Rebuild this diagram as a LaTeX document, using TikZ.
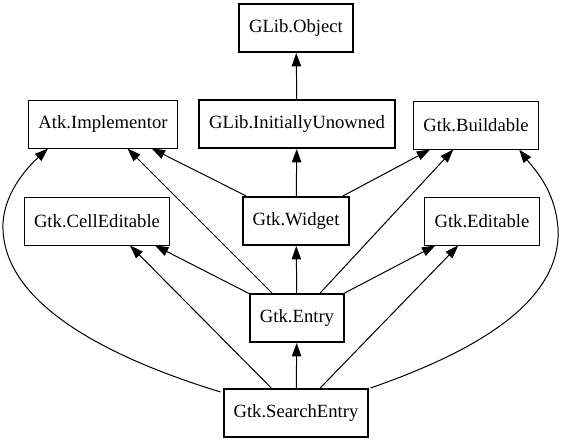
\documentclass[tikz,border=0pt]{standalone}
\usepackage{fontspec}
\setmainfont{Liberation Serif}
\usetikzlibrary{arrows.meta,calc}

\tikzset{
  cls/.style={draw, line width=0.75pt, minimum height=36pt, inner xsep=7.5pt,
    font=\fontsize{14}{16}\selectfont},
  boldcls/.style={cls, line width=1.5pt},
  inh/.style={line width=0.75pt, -{Triangle[length=10pt,width=7pt]}}
}

\begin{document}
\begin{tikzpicture}[x=0.75pt, y=-0.75pt]
    \useasboundingbox (0,0) rectangle (564,443);
    % classes
    \node[boldcls] (obj) at (296,28) {GLib.Object};
    \node[boldcls] (unowned) at (297,124) {GLib.InitiallyUnowned};
    \node[cls] (atk) at (103,124) {Atk.Implementor};
    \node[cls] (buildable) at (476,125) {Gtk.Buildable};
    \node[cls] (cell) at (97,221) {Gtk.CellEditable};
    \node[boldcls] (widget) at (296,221) {Gtk.Widget};
    \node[cls] (editable) at (482,221) {Gtk.Editable};
    \node[boldcls] (entry) at (297,318) {Gtk.Entry};
    \node[boldcls] (search) at (296,413) {Gtk.SearchEntry};
    % inheritance
    \draw[inh] (unowned) -- (obj);
    \draw[inh] (widget) -- (unowned);
    \draw[inh] (widget) -- (atk);
    \draw[inh] (widget) -- (buildable);
    \draw[inh] (entry) -- (widget);
    \draw[inh] (entry) -- (atk);
    \draw[inh] (entry) -- (buildable);
    \draw[inh] (entry) -- ($(cell.south)+(58,0)$);
    \draw[inh] (entry) -- (editable);
    \draw[inh] (search) -- (entry);
    \draw[inh] (search) -- ($(cell.south)+(33,0)$);
    \draw[inh] (search) -- (editable);
    \draw[inh] ($(search.north west)+(-2,4)$) .. controls (100,355) and (0,300) .. (3,223)
        .. controls (5,190) and (30,165) .. ($(atk.south west)+(20,0)$);
    \draw[inh] ($(search.north east)+(1,0)$) .. controls (480,350) and (562,300) .. (558,228)
        .. controls (555,190) and (535,170) .. ($(buildable.south east)+(-20,0)$);
\end{tikzpicture}
\end{document}
